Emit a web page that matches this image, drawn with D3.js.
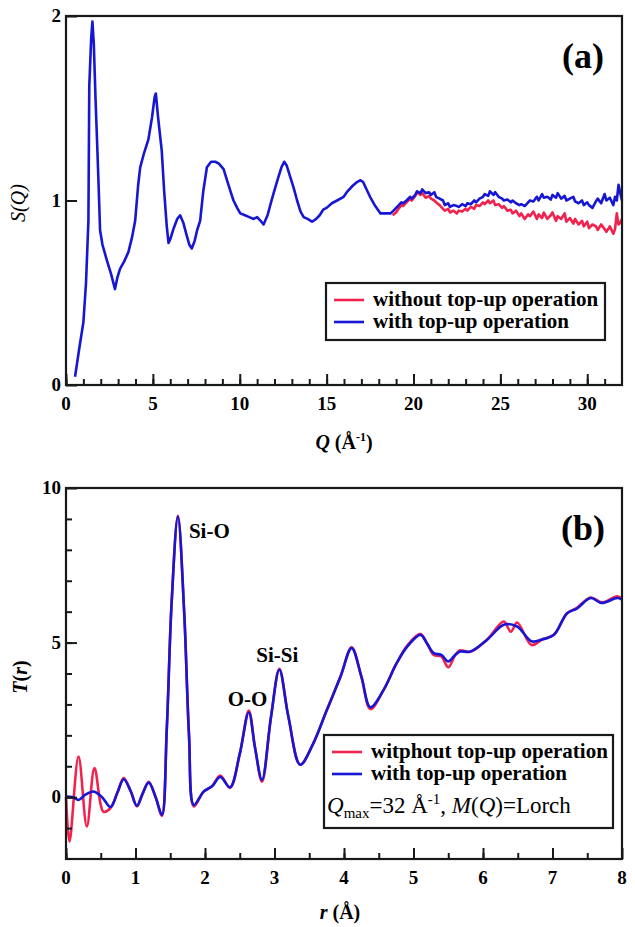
<!DOCTYPE html>
<html>
<head>
<meta charset="utf-8">
<script src="https://cdn.jsdelivr.net/npm/d3@7/dist/d3.min.js"></script>
<style>
  html, body { margin: 0; padding: 0; background: #fff; }
  svg { display: block; }
</style>
</head>
<body>
<svg id="fig" width="635" height="927" font-family="'Liberation Serif', 'Times New Roman', Times, serif"></svg>
<script>
// ---- (a) structure factor S(Q) ----
const qBlue = [0.52,0.75,1.0,1.15,1.29,1.34,1.45,1.52,1.6,1.7,1.77,1.87,1.96,2.1,2.34,2.6,2.82,2.95,3.11,3.35,3.59,3.8,3.98,4.15,4.27,4.5,4.74,4.95,5.1,5.17,5.3,5.51,5.65,5.8,5.9,6.0,6.2,6.4,6.57,6.75,6.95,7.1,7.24,7.4,7.55,7.72,7.9,8.11,8.35,8.59,8.8,9.07,9.3,9.5,9.64,9.85,10.03,10.3,10.55,10.8,11.0,11.2,11.37,11.6,11.8,11.95,12.2,12.4,12.56,12.7,12.9,13.1,13.3,13.5,13.68,13.9,14.16,14.4,14.6,14.8,15.0,15.3,15.6,15.98,16.2,16.5,16.75,16.95,17.1,17.3,17.5,17.8,18.1,18.4,18.67,18.8,
  19.0,19.1,19.3,19.4,19.6,19.8,19.9,20.1,20.2,20.4,20.5,20.7,20.9,21.0,21.2,21.3,21.5,21.7,21.8,22.0,22.1,22.3,22.5,22.6,22.8,23.0,23.1,23.3,23.5,23.6,23.8,24.0,24.1,24.3,24.4,24.6,24.7,24.9,25.1,25.2,25.4,25.6,25.7,25.9,26.1,26.2,26.4,26.6,26.7,26.9,27.1,27.2,27.4,27.5,27.7,27.9,28.0,28.2,28.3,28.5,28.7,28.8,29.0,29.2,29.3,29.5,29.7,29.8,30.0,30.1,30.3,30.5,30.6,30.8,31.0,31.1,31.3,31.5,31.6,31.7,31.8,31.9,32.0];
const sBlue = [0.045,0.19,0.34,0.55,0.89,1.62,1.88,1.97,1.85,1.55,1.37,1.1,0.84,0.76,0.68,0.6,0.52,0.58,0.63,0.67,0.72,0.8,0.89,1.08,1.18,1.26,1.33,1.45,1.56,1.58,1.45,1.27,1.05,0.86,0.77,0.79,0.85,0.9,0.92,0.88,0.81,0.76,0.74,0.78,0.84,0.89,1.05,1.18,1.21,1.21,1.2,1.17,1.1,1.04,1.0,0.96,0.93,0.92,0.91,0.9,0.91,0.89,0.87,0.92,0.99,1.04,1.12,1.18,1.21,1.19,1.13,1.07,1.0,0.94,0.91,0.9,0.885,0.9,0.92,0.95,0.96,0.985,1.0,1.02,1.05,1.08,1.1,1.11,1.1,1.06,1.02,0.97,0.93,0.93,0.93,0.94,
  0.96,0.97,0.99,0.985,1.0,1.02,1.01,1.03,1.05,1.04,1.06,1.04,1.045,1.03,1.045,1.02,1.01,1.0,0.975,0.985,0.965,0.975,0.97,0.965,0.98,0.97,0.985,0.98,1.0,0.99,1.01,1.02,1.035,1.025,1.05,1.03,1.045,1.02,1.01,1.0,1.005,0.99,1.0,0.985,0.975,0.98,0.97,0.99,1.0,0.995,1.02,1.0,1.035,1.015,1.02,1.005,1.03,1.015,1.04,1.01,1.025,1.0,1.01,1.02,0.995,0.985,1.0,0.975,0.99,0.975,0.96,0.995,1.01,0.985,1.035,1.0,1.015,0.975,1.02,1.0,1.085,1.04,1.0];
const qRed = [18.8,19.0,19.1,19.3,19.4,19.6,19.8,19.9,20.1,20.2,20.4,20.5,20.7,20.9,21.0,21.2,21.3,21.5,21.7,21.8,22.0,22.1,22.3,22.5,22.6,22.8,23.0,23.1,23.3,23.5,23.6,23.8,24.0,24.1,24.3,24.4,24.6,24.7,24.9,25.1,25.2,25.4,25.6,25.7,25.9,26.1,26.2,26.4,26.6,26.7,26.9,27.1,27.2,27.4,27.5,27.7,27.9,28.0,28.2,28.3,28.5,28.7,28.8,29.0,29.2,29.3,29.5,29.7,29.8,30.0,30.1,30.3,30.5,30.6,30.8,31.0,31.1,31.3,31.5,31.6,31.7,31.8,31.9,32.0];
const sRed = [0.92,0.935,0.95,0.975,0.97,0.99,1.01,1.0,1.025,1.045,1.03,1.04,1.015,1.025,1.01,1.0,0.99,0.975,0.955,0.945,0.955,0.935,0.945,0.93,0.945,0.94,0.955,0.945,0.965,0.955,0.975,0.97,0.99,0.98,1.0,0.985,1.0,0.975,0.98,0.96,0.97,0.945,0.95,0.93,0.945,0.915,0.93,0.9,0.925,0.915,0.94,0.9,0.925,0.905,0.935,0.9,0.92,0.935,0.89,0.915,0.9,0.93,0.885,0.905,0.875,0.9,0.87,0.89,0.86,0.885,0.85,0.87,0.86,0.84,0.87,0.845,0.83,0.86,0.82,0.845,0.93,0.87,0.88,0.9];

// ---- (b) total correlation function T(r) ----
const rBlue = [0,0.1,0.18,0.28,0.4,0.52,0.64,0.74,0.83,0.93,1.02,1.1,1.19,1.29,1.38,1.45,1.52,1.61,1.7,1.77,1.84,1.98,2.1,2.22,2.36,2.5,2.63,2.72,2.82,2.95,3.07,3.2,3.37,3.55,3.75,3.95,4.11,4.25,4.38,4.57,4.75,4.91,5.1,5.2,5.29,5.4,5.5,5.6,5.67,5.82,6.06,6.3,6.49,6.7,6.85,7.02,7.21,7.35,7.55,7.71,7.93,8.0];
const tBlue = [0.02,0.0,-0.09,0.08,0.18,0.0,-0.32,0.15,0.58,0.2,-0.28,0.1,0.47,0.0,-0.57,2.2,6.3,9.08,6.0,2.0,-0.25,0.18,0.35,0.65,0.32,1.4,2.74,1.6,0.56,2.6,4.12,2.6,1.05,1.7,2.8,3.9,4.82,3.9,2.91,3.47,4.3,4.87,5.25,4.95,4.66,4.6,4.39,4.6,4.71,4.71,5.09,5.58,5.52,5.04,5.1,5.25,5.95,6.1,6.44,6.28,6.44,6.39];
const rRed = [0,0.05,0.18,0.3,0.41,0.54,0.64,0.74,0.83,0.93,1.02,1.1,1.19,1.29,1.38,1.45,1.52,1.61,1.7,1.77,1.84,1.98,2.1,2.22,2.36,2.5,2.63,2.72,2.82,2.95,3.07,3.2,3.37,3.55,3.75,3.95,4.11,4.25,4.38,4.57,4.75,4.91,5.1,5.2,5.29,5.4,5.5,5.6,5.67,5.82,6.06,6.3,6.4,6.49,6.7,6.85,7.02,7.21,7.35,7.55,7.71,7.93,8.0];
const tRed = [0.0,-1.44,1.31,-0.95,0.94,-0.47,-0.35,0.15,0.62,0.2,-0.3,0.1,0.5,0.0,-0.6,2.2,6.3,9.1,6.0,2.0,-0.3,0.18,0.35,0.7,0.3,1.4,2.8,1.6,0.5,2.6,4.15,2.6,1.05,1.7,2.8,3.9,4.85,3.9,2.85,3.47,4.3,4.9,5.28,4.95,4.6,4.55,4.2,4.6,4.75,4.7,5.1,5.68,5.35,5.65,4.92,5.1,5.25,5.95,6.12,6.46,6.3,6.5,6.42];

// axis ticks
const qTicks = [0,5,10,15,20,25,30];
const sTicks = [0,1,2];
const rTicks = [0,1,2,3,4,5,6,7,8];
const tTicks = [0,5,10];

const BLUE = "#1616d4", RED = "#f2224e", INK = "#161a1a";
const FONT = "'Liberation Serif', 'Times New Roman', Times, serif";

const svg = d3.select("#fig");

function zip(xs, ys) { return xs.map((x, i) => [x, ys[i]]); }

function panel(cfg) {
  const g = svg.append("g");
  const x = d3.scaleLinear().domain(cfg.xDomain).range([cfg.left, cfg.right]);
  const y = d3.scaleLinear().domain(cfg.yDomain).range([cfg.bottom, cfg.top]);

  // curves: red first, blue on top
  const line = d3.line().x(d => x(d[0])).y(d => y(d[1])).curve(cfg.curve);
  g.append("path").datum(cfg.red).attr("d", line)
    .attr("fill", "none").attr("stroke", RED).attr("stroke-width", 2.6).attr("stroke-linejoin", "round");
  g.append("path").datum(cfg.blue).attr("d", line)
    .attr("fill", "none").attr("stroke", BLUE).attr("stroke-width", 2.6).attr("stroke-linejoin", "round");

  // inward-pointing ticks
  g.append("g").attr("transform", `translate(0,${cfg.bottom})`)
    .call(d3.axisTop(x).tickValues(cfg.xMinor).tickSize(6).tickFormat(""));
  g.append("g").attr("transform", `translate(0,${cfg.bottom})`)
    .call(d3.axisTop(x).tickValues(cfg.xTicks).tickSize(11).tickFormat(""));
  if (cfg.yMinor) {
    g.append("g").attr("transform", `translate(${cfg.left},0)`)
      .call(d3.axisRight(y).tickValues(cfg.yMinor).tickSize(6).tickFormat(""));
  }
  g.append("g").attr("transform", `translate(${cfg.left},0)`)
    .call(d3.axisRight(y).tickValues(cfg.yTicks).tickSize(11).tickFormat(""));
  g.selectAll(".domain").remove();
  g.selectAll(".tick line").attr("stroke", INK).attr("stroke-width", 2);

  // frame
  g.append("rect").attr("x", cfg.left).attr("y", cfg.top)
    .attr("width", cfg.right - cfg.left).attr("height", cfg.bottom - cfg.top)
    .attr("fill", "none").attr("stroke", INK).attr("stroke-width", 2.2);

  // tick labels
  g.selectAll(".xl").data(cfg.xTicks).join("text")
    .attr("font-family", FONT)
    .attr("x", d => x(d)).attr("y", cfg.bottom + 25)
    .attr("text-anchor", "middle").attr("font-size", 19).attr("font-weight", "bold")
    .text(d => d);
  g.selectAll(".yl").data(cfg.yTicks).join("text")
    .attr("font-family", FONT)
    .attr("x", cfg.left - 5).attr("y", d => y(d) + 6)
    .attr("text-anchor", "end").attr("font-size", 19).attr("font-weight", "bold")
    .text(d => d);

  return { g, x, y };
}

// ---------- panel (a) ----------
const A = panel({
  left: 66, right: 622, top: 16, bottom: 385,
  xDomain: [0, 32], yDomain: [0, 2],
  xTicks: qTicks, xMinor: d3.range(0, 32, 1),
  yTicks: sTicks, yMinor: null,
  curve: d3.curveLinear,
  red: zip(qRed, sRed), blue: zip(qBlue, sBlue)
});

// ---------- panel (b) ----------
const B = panel({
  left: 66, right: 622, top: 488, bottom: 859,
  xDomain: [0, 8], yDomain: [-2, 10],
  xTicks: rTicks, xMinor: d3.range(0, 8, 0.5),
  yTicks: tTicks, yMinor: d3.range(-1, 10, 1),
  curve: d3.curveCatmullRom.alpha(0.5),
  red: zip(rRed, tRed), blue: zip(rBlue, tBlue)
});

function T(x, y) {
  return svg.append("text").attr("font-family", FONT).attr("x", x).attr("y", y);
}

// axis titles
const qt = T(344, 449).attr("text-anchor", "middle").attr("font-size", 20).attr("font-weight", "bold");
qt.append("tspan").attr("font-style", "italic").text("Q");
qt.append("tspan").text(" (Å");
qt.append("tspan").attr("font-size", 12).attr("dy", -8).text("-1");
qt.append("tspan").attr("dy", 8).text(")");

const rt = T(340, 919).attr("text-anchor", "middle").attr("font-size", 20).attr("font-weight", "bold");
rt.append("tspan").attr("font-style", "italic").text("r");
rt.append("tspan").text(" (Å)");

svg.append("text").attr("font-family", FONT).attr("transform", "translate(25,203) rotate(-90)")
  .attr("text-anchor", "middle").attr("font-size", 20).attr("font-style", "italic")
  .text("S(Q)");

const tt = svg.append("text").attr("font-family", FONT).attr("transform", "translate(27,677) rotate(-90)")
  .attr("text-anchor", "middle").attr("font-size", 20).attr("font-weight", "bold");
tt.append("tspan").attr("font-style", "italic").text("T");
tt.append("tspan").text("(");
tt.append("tspan").attr("font-style", "italic").text("r");
tt.append("tspan").text(")");

// panel letters
T(604, 68).attr("text-anchor", "end").attr("font-size", 36).attr("font-weight", "bold").text("(a)");
T(605, 540).attr("text-anchor", "end").attr("font-size", 36).attr("font-weight", "bold").text("(b)");

// peak annotations in (b)
const peaks = [
  { name: "Si-O", r: 1.61, t: 9.08, dx: 11, dy: 22 },
  { name: "O-O", r: 2.63, t: 2.74, dx: -21, dy: -6 },
  { name: "Si-Si", r: 3.07, t: 4.12, dx: -23, dy: -8 }
];
svg.selectAll(".pk").data(peaks).join("text")
  .attr("font-family", FONT)
  .attr("x", d => B.x(d.r) + d.dx).attr("y", d => B.y(d.t) + d.dy)
  .attr("font-size", 21).attr("font-weight", "bold")
  .text(d => d.name);

// legends
function legend(x0, y0, w, h, entries) {
  const g = svg.append("g");
  g.append("rect").attr("x", x0).attr("y", y0).attr("width", w).attr("height", h)
    .attr("fill", "#fff").attr("stroke", INK).attr("stroke-width", 2.2);
  entries.forEach((e, i) => {
    const yy = y0 + 17 + i * 22;
    g.append("line").attr("x1", x0 + 8).attr("x2", x0 + 38).attr("y1", yy).attr("y2", yy)
      .attr("stroke", e.color).attr("stroke-width", 2.6);
    g.append("text").attr("font-family", FONT).attr("x", x0 + 47).attr("y", yy + 6).attr("font-size", 21)
      .attr("font-weight", "bold").text(e.label);
  });
  return g;
}

legend(326, 283, 279, 57, [
  { label: "without top-up operation", color: RED },
  { label: "with top-up operation", color: BLUE }
]);

const lb = legend(324, 735, 289, 93, [
  { label: "witphout top-up operation", color: RED },
  { label: "with top-up operation", color: BLUE }
]);
const lt = lb.append("text").attr("font-family", FONT).attr("x", 327).attr("y", 813).attr("font-size", 23);
lt.append("tspan").attr("font-style", "italic").text("Q");
lt.append("tspan").attr("font-size", 15).attr("dy", 5).text("max");
lt.append("tspan").attr("dy", -5).text("=32 Å");
lt.append("tspan").attr("font-size", 15).attr("dy", -9).text("-1");
lt.append("tspan").attr("dy", 9).text(", ");
lt.append("tspan").attr("font-style", "italic").text("M");
lt.append("tspan").text("(");
lt.append("tspan").attr("font-style", "italic").text("Q");
lt.append("tspan").text(")=Lorch");
</script>
</body>
</html>
